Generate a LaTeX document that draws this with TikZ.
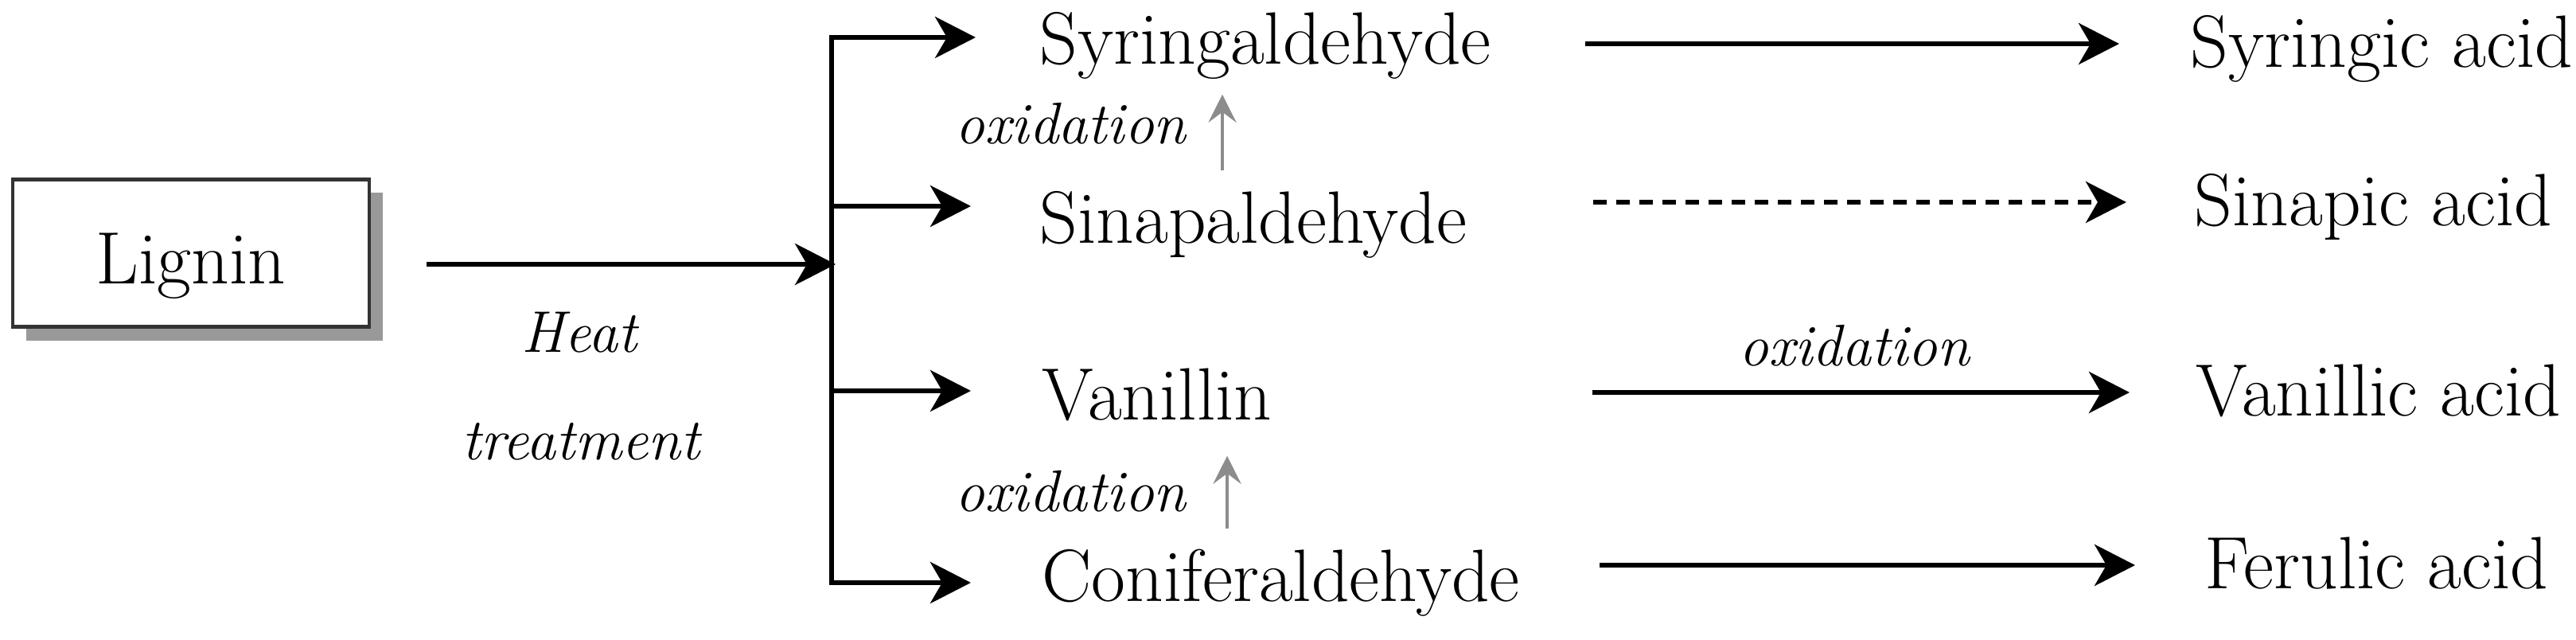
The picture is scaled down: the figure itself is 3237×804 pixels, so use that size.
\documentclass[tikz,border=0pt]{standalone}
\usetikzlibrary{arrows.meta,shadows}
\begin{document}
\begin{tikzpicture}[x=0.01cm, y=-0.01cm,
    every node/.style={font=\fontsize{26.5}{31}\selectfont},
    txt/.style={inner sep=0pt, text height=5.8mm, text depth=0pt, anchor=west},
    lab/.style={inner sep=0pt, anchor=base west, font=\fontsize{21}{25}\selectfont\itshape},
    arr/.style={-{Stealth[length=5.1mm, width=5.2mm, inset=1.5mm]}, line width=1.6pt},
    oxarr/.style={-{Stealth[length=3.5mm, width=3.5mm, inset=1.3mm]}, line width=1.4pt, black!45}]
          \useasboundingbox (0,0) rectangle (3237,804);

          \node[draw=black!80, line width=1.2pt, fill=white, minimum width=4.47cm, minimum height=1.85cm,
                inner sep=0pt, text height=7.7mm, text depth=0pt,
                drop shadow={shadow xshift=1.7mm, shadow yshift=-1.7mm, fill=black!40, opacity=1}] at (240,318) (lig) {Lignin};
          \node[lab, anchor=base] at (728,443) (heat)  {Heat};
          \node[lab, anchor=base] at (730,578) (treat) {treatment};

          \node[txt] at (1306, 51) (syr) {Syringaldehyde};
          \node[txt] at (1306,276) (sin) {Sinapaldehyde};
          \node[txt] at (1309,498) (van) {Vanillin};
          \node[txt] at (1309,726) (con) {Coniferaldehyde};

          \node[txt] at (2752, 55) (syra) {Syringic acid};
          \node[txt] at (2757,254) (sina) {Sinapic acid};
          \node[txt] at (2759,493) (vana) {Vanillic acid};
          \node[txt] at (2770,710) (fera) {Ferulic acid};

          \node[lab] at (1200,181) (ox1) {oxidation};
          \node[lab] at (1200,643) (ox2) {oxidation};
          \node[lab, anchor=base] at (2330,460) (ox3) {oxidation};

          \coordinate (mid) at (1050,332);
          \coordinate (b1) at (1045, 47);
          \coordinate (b2) at (1045,259);
          \coordinate (b3) at (1045,491);
          \coordinate (b4) at (1045,732);
          \coordinate (g1) at (1536,0);
          \coordinate (g2) at (1542,0);

          \draw[arr, shorten <=7mm] (lig.east |- mid) -- (mid);
          \draw[line width=1.6pt, line cap=rect] (b1) -- (b4);
          \draw[arr, shorten >=8.0mm] (b1) -- (b1 -| syr.west);
          \draw[arr, shorten >=8.6mm] (b2) -- (b2 -| sin.west);
          \draw[arr, shorten >=8.9mm] (b3) -- (b3 -| van.west);
          \draw[arr, shorten >=8.9mm] (b4) -- (b4 -| con.west);

          % oxydations entre aldehydes
          \draw[oxarr, shorten <=3.2mm, shorten >=3.8mm] (sin.north -| g1) -- (syr.south -| g1);
          \draw[oxarr, shorten <=3.2mm, shorten >=4.5mm] (con.north -| g2) -- (van.south -| g2);

          \draw[arr, shorten <=11.8mm, shorten >=8.9mm] (syr.east |- syra.west) -- (syra.west);
          \draw[arr, dash pattern=on 1.7mm off 1.2mm, shorten <=15.8mm, shorten >=8.5mm] (sin.east |- sina.west) -- (sina.west);
          \draw[arr, shorten <=40.2mm, shorten >=8.3mm] (van.east |- vana.west) -- (vana.west);
          \draw[arr, shorten <=10mm, shorten >=8.7mm] (con.east |- fera.west) -- (fera.west);

        \end{tikzpicture}
\end{document}
